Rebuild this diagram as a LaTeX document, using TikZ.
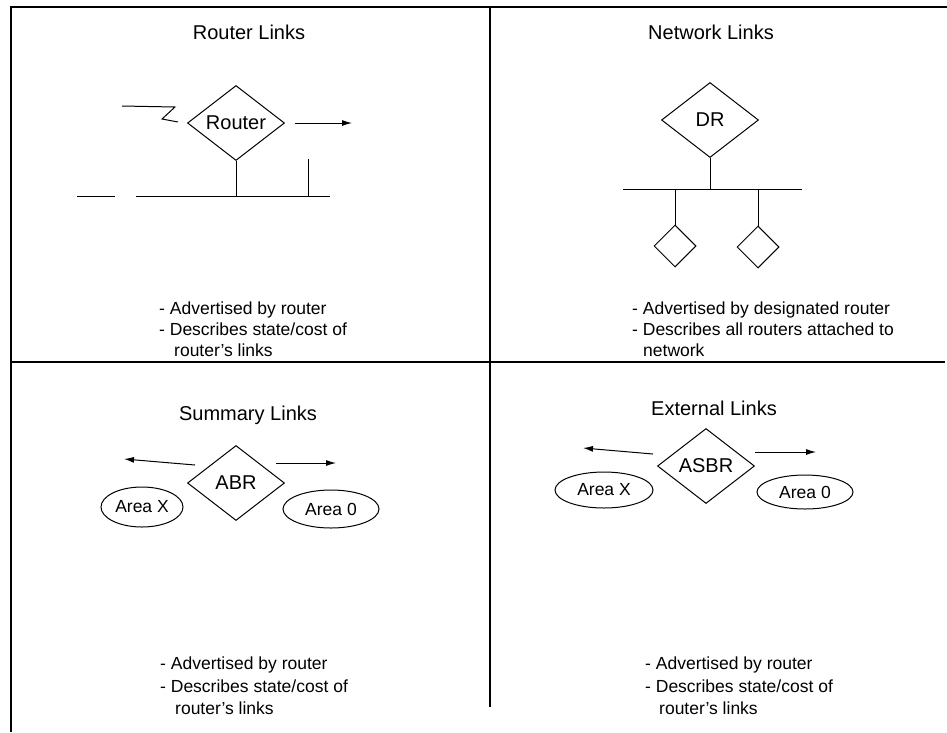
\documentclass[tikz,border=0pt]{standalone}
\usepackage{fontspec}
\setmainfont{Liberation Sans}
\usetikzlibrary{shapes.geometric,arrows.meta}
\begin{document}
\begin{tikzpicture}[x=1pt,y=-1pt,
  ln/.style={line width=1pt},
  framel/.style={line width=1.5pt},
  arr/.style={line width=1pt,-{Latex[length=10pt,width=6pt]}},
  dia/.style={draw,diamond,line width=1pt,inner sep=0pt,minimum width=97pt,minimum height=75pt,font=\fontsize{20}{24}\selectfont},
  sdia/.style={draw,diamond,line width=1pt,inner sep=0pt,minimum width=42pt,minimum height=42pt},
  area/.style={draw,ellipse,line width=1pt,inner sep=0pt,font=\fontsize{17.5}{21}\selectfont},
  title/.style={anchor=base,font=\fontsize{20}{24}\selectfont,inner sep=0pt},
  desc/.style={anchor=base west,font=\fontsize{17.5}{21}\selectfont,inner sep=0pt},
]
\useasboundingbox (0,0) rectangle (947,732);
% frame and dividers
\coordinate (fbl) at (11,732);
\coordinate (ftl) at (11,7);
\coordinate (ftr) at (947,7);
\coordinate (vtop) at (490,7);
\coordinate (vbot) at (490,707);
\coordinate (hl) at (11,362);
\coordinate (hr) at (945,362);
\draw[framel] (fbl) -- (ftl) -- (ftr);
\draw[framel] (vtop) -- (vbot);
\draw[framel] (hl) -- (hr);

% titles
\node[title] (t1) at (249,39) {Router Links};
\node[title] (t2) at (711,39) {Network Links};
\node[title] (t3) at (248,420) {Summary Links};
\node[title] (t4) at (714,415) {External Links};

% Router links
\node[dia] (router) at (236,123) {Router};
\coordinate (b1a) at (77,196);
\coordinate (b1b) at (115,196);
\coordinate (b1c) at (136,196);
\coordinate (b1d) at (330,196);
\coordinate (stub) at (308,159);
\draw[ln] (b1a) -- (b1b);
\draw[ln] (b1c) -- (b1d);
\draw[ln] (router.south) -- (router.south |- b1c);
\draw[ln] (stub) -- (stub |- b1c);
\coordinate (z1) at (122,106);
\coordinate (z2) at (175,107);
\coordinate (z3) at (162,119);
\coordinate (z4) at (178,122);
\draw[ln] (z1) -- (z2) -- (z3) -- (z4);
\coordinate (a1s) at (295,123);
\coordinate (a1e) at (352,123);
\draw[arr] (a1s) -- (a1e);

% Network links
\node[dia] (dr) at (710,120) {DR};
\node[sdia] (r1) at (675,246) {};
\node[sdia] (r2) at (758,247) {};
\coordinate (b2a) at (623,189);
\coordinate (b2b) at (802,189);
\draw[ln] (b2a) -- (b2b);
\draw[ln] (dr.south) -- (dr.south |- b2a);
\draw[ln] (r1.north) -- (r1.north |- b2a);
\draw[ln] (r2.north) -- (r2.north |- b2a);

% Summary links
\node[dia] (abr) at (236,483) {ABR};
\node[area,minimum width=82pt,minimum height=40pt] (ax1) at (142,507) {Area X};
\node[area,minimum width=96pt,minimum height=38pt] (a01) at (331,509) {Area 0};
\coordinate (s1s) at (195,465);
\coordinate (s1e) at (124,459);
\coordinate (s2s) at (276,463);
\coordinate (s2e) at (336,463);
\draw[arr] (s1s) -- (s1e);
\draw[arr] (s2s) -- (s2e);

% External links
\node[dia] (asbr) at (706,466) {ASBR};
\node[area,minimum width=98pt,minimum height=36pt] (ax2) at (604,490) {Area X};
\node[area,minimum width=96pt,minimum height=34pt] (a02) at (805,492) {Area 0};
\coordinate (e1s) at (653,454);
\coordinate (e1e) at (583,448);
\coordinate (e2s) at (755,452);
\coordinate (e2e) at (816,452);
\draw[arr] (e1s) -- (e1e);
\draw[arr] (e2s) -- (e2e);

% descriptions
\node[desc] (d11) at (159,314) {- Advertised by router};
\node[desc] (d12) at (159,335) {- Describes state/cost of};
\node[desc] (d13) at (174,356) {router's links};
\node[desc] (d21) at (632,314) {- Advertised by designated router};
\node[desc] (d22) at (632,335) {- Describes all routers attached to};
\node[desc] (d23) at (643,356) {network};
\node[desc] (d31) at (160,669) {- Advertised by router};
\node[desc] (d32) at (160,692) {- Describes state/cost of};
\node[desc] (d33) at (175,714) {router's links};
\node[desc] (d41) at (645,669) {- Advertised by router};
\node[desc] (d42) at (645,692) {- Describes state/cost of};
\node[desc] (d43) at (659,714) {router's links};
\end{tikzpicture}
\end{document}
